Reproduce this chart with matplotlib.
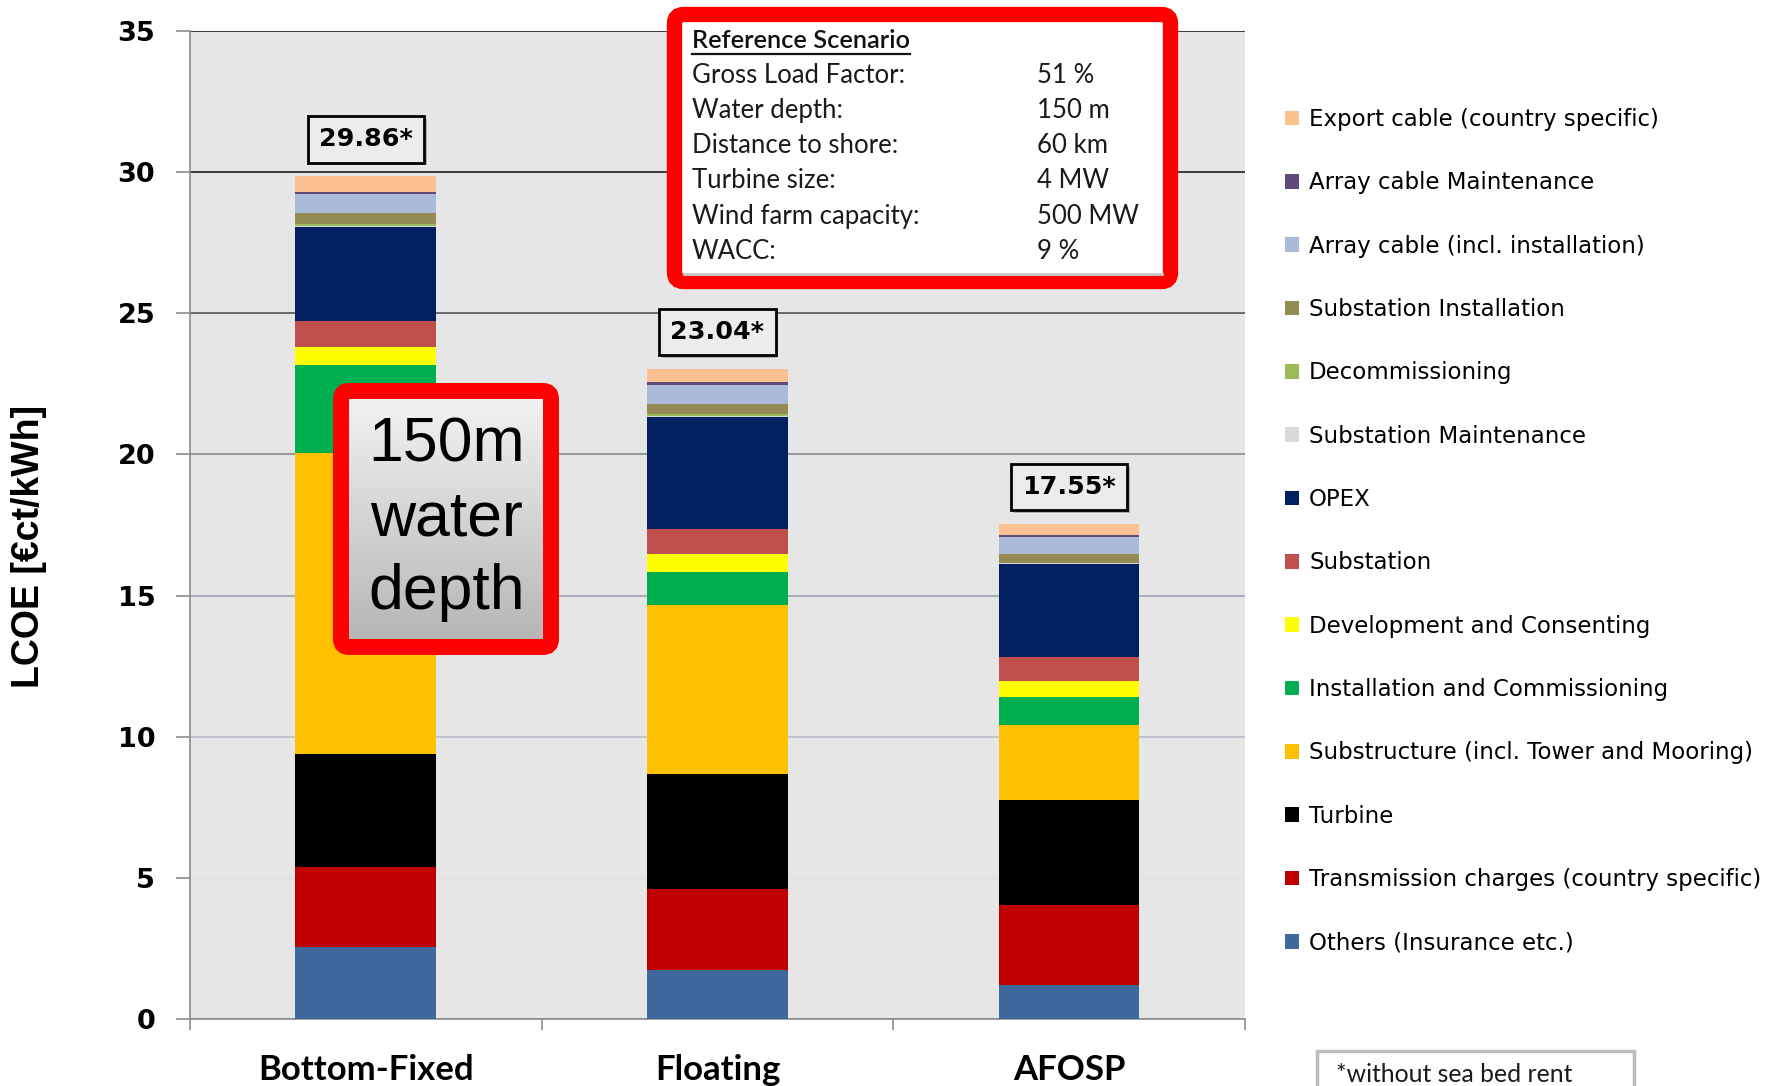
import numpy as np
import matplotlib
matplotlib.use("Agg")
import matplotlib.pyplot as plt
from matplotlib.patches import FancyBboxPatch, Rectangle
import matplotlib.patheffects as pe

# ---- data -------------------------------------------------------------
categories = ["Bottom-Fixed", "Floating", "AFOSP"]

components = [
    "Others (Insurance etc.)",
    "Transmission charges (country specific)",
    "Turbine",
    "Substructure (incl. Tower and Mooring)",
    "Installation and Commissioning",
    "Development and Consenting",
    "Substation",
    "OPEX",
    "Substation Maintenance",
    "Decommissioning",
    "Substation Installation",
    "Array cable (incl. installation)",
    "Array cable Maintenance",
    "Export cable (country specific)",
]

component_colors = [
    "#3f699c", "#c00000", "#000000", "#ffc000", "#00b050", "#ffff00",
    "#c0504d", "#002060", "#d9d9d9", "#9bbb59", "#948a54", "#a9bbd9",
    "#604a7b", "#fac090",
]

# LCOE contributions in €ct/kWh, same order as components
bottom_fixed = [2.54, 2.86, 3.99, 10.66, 3.12, 0.62, 0.92, 3.34, 0.03, 0.10, 0.38, 0.67, 0.06, 0.57]
floating = [1.72, 2.88, 4.07, 6.00, 1.17, 0.64, 0.89, 3.96, 0.02, 0.08, 0.37, 0.67, 0.08, 0.49]
afosp = [1.22, 2.82, 3.73, 2.64, 1.01, 0.55, 0.85, 3.30, 0.02, 0.02, 0.32, 0.58, 0.10, 0.39]

y_ticks = [0, 5, 10, 15, 20, 25, 30, 35]

scenario_title = "Reference Scenario"
scenario_params = ["Gross Load Factor:", "Water depth:", "Distance to shore:",
                   "Turbine size:", "Wind farm capacity:", "WACC:"]
scenario_values = ["51 %", "150 m", "60 km", "4 MW", "500 MW", "9 %"]

depth_note = "150m\nwater\ndepth"
footnote = "*without sea bed rent"

# ---- figure -----------------------------------------------------------
W, H = 1783, 1086
fig = plt.figure(figsize=(W / 100, H / 100), dpi=100)
fig.patch.set_facecolor("white")

ax_left, ax_right, ax_bottom, ax_top = 190, 1245, 1019, 31  # pixel edges
ax = fig.add_axes([ax_left / W, (H - ax_bottom) / H,
                   (ax_right - ax_left) / W, (ax_bottom - ax_top) / H])
ax.set_facecolor("#e6e6e6")

x = np.arange(len(categories))
data = np.array([bottom_fixed, floating, afosp]).T
bottoms = np.zeros(len(categories))
handles = []
for name, color, vals in zip(components, component_colors, data):
    h = ax.bar(x, vals, 0.4, bottom=bottoms, color=color, label=name,
               linewidth=0, zorder=3)
    handles.append(h)
    bottoms = bottoms + vals
totals = bottoms

ax.set_xlim(-0.5, 2.5)
ax.set_ylim(0, 35)

# y axis
ax.set_yticks(y_ticks)
ax.set_yticklabels([str(t) for t in y_ticks], fontsize=19.5, fontweight="bold",
                   family="DejaVu Sans")
ax.tick_params(axis="y", length=10, width=1.2, color="#8c8c8c", pad=15)
ax.yaxis.grid(True, linewidth=1.2)
ax.set_axisbelow(True)
grid_colors = ["#8c8c8c", "#dde1e8", "#b7bcc8", "#9ea3b3", "#878b96",
               "#555555", "#1e1e1e", "#1e1e1e"]
for gl, c in zip(ax.get_ygridlines(), grid_colors):
    gl.set_color(c)

# x axis: labels at the bars, ticks at the category boundaries
ax.set_xticks(x)
ax.set_xticklabels(categories, fontsize=25, fontweight="bold", family="Lato")
ax.tick_params(axis="x", which="major", length=0, pad=25)
ax.set_xticks([-0.5, 0.5, 1.5, 2.5], minor=True)
ax.tick_params(axis="x", which="minor", length=8, width=1.2, color="#8c8c8c")

for s in ["top", "right"]:
    ax.spines[s].set_visible(False)
for s in ["left", "bottom"]:
    ax.spines[s].set_color("#8c8c8c")
    ax.spines[s].set_linewidth(1.2)

ax.set_ylabel("LCOE [€ct/kWh]", fontsize=27, fontweight="bold",
              family=["Liberation Sans Narrow", "Liberation Sans"])
ax.yaxis.set_label_coords((29 - ax_left) / (ax_right - ax_left),
                          1 - (546 - ax_top) / (ax_bottom - ax_top))
ax.yaxis.label.set_va("center")

# total value labels above each bar
for xi, t in zip(x, totals):
    ann = ax.annotate(f"{t:.2f}*", xy=(xi, t), xytext=(0, 26.4),
                      textcoords="offset points", ha="center", va="center",
                      fontsize=18.3, fontweight="bold", family="DejaVu Sans",
                      zorder=6,
                      bbox=dict(boxstyle="square,pad=0.44", fc="#ececec",
                                ec="black", lw=2))
    ann.get_bbox_patch().set_path_effects(
        [pe.SimplePatchShadow(offset=(2, -2), shadow_rgbFace="#888888", alpha=0.6),
         pe.Normal()])

# legend (top entry = top of the stack)
ax.legend(handles[::-1], components[::-1], loc="upper left",
          bbox_to_anchor=(1285 / W, 1 - 108 / H), bbox_transform=fig.transFigure,
          frameon=False, prop={"family": "DejaVu Sans", "size": 16.5},
          handlelength=0.6, handleheight=0.6, handletextpad=0.45,
          labelspacing=1.76, borderpad=0, borderaxespad=0)

# ---- overlay in pixel coordinates for the annotation boxes -----------
ov = fig.add_axes([0, 0, 1, 1], zorder=5)
ov.set_xlim(0, W)
ov.set_ylim(H, 0)
ov.axis("off")
ov.patch.set_alpha(0)

# scenario box
info = FancyBboxPatch((674.5, 14.5), 1170.5 - 674.5, 281.5 - 14.5,
                      boxstyle="round,pad=0,rounding_size=9",
                      fc="white", ec="#ff0000", lw=11)
ov.add_patch(info)
ov.plot([684, 1162], [274, 274], color="#c8c8c8", lw=2)
title_txt = ov.text(692, 41, scenario_title, fontsize=18.3, fontweight="semibold",
                    family="Lato", va="center", ha="left", color="#111111")
line_y = [75.1, 110.3, 145.6, 180.8, 216.1, 251.3]
for yy, p, v in zip(line_y, scenario_params, scenario_values):
    ov.text(692, yy, p, fontsize=18.5, family="Lato", va="center", ha="left",
            color="#1a1a1a")
    ov.text(1037, yy, v, fontsize=18.5, family="Lato", va="center", ha="left",
            color="#1a1a1a")
fig.canvas.draw()
bb = title_txt.get_window_extent()
inv = ov.transData.inverted()
(x0, _), (x1, _) = inv.transform([(bb.x0, bb.y0), (bb.x1, bb.y0)])
ov.plot([x0, x1], [54, 54], color="#111111", lw=1.6)

# water depth box with vertical gradient
depth_box = FancyBboxPatch((341, 391), 551 - 341, 647 - 391,
                           boxstyle="round,pad=0,rounding_size=8",
                           fc="none", ec="#ff0000", lw=11.5, zorder=3)
grad = np.linspace(0, 1, 256).reshape(-1, 1)
img = ov.imshow(grad, cmap=matplotlib.colors.LinearSegmentedColormap.from_list(
    "g", ["#f4f4f4", "#b4b4b4"]), extent=(341, 551, 647, 391), aspect="auto",
    zorder=2)
clip = FancyBboxPatch((341, 391), 551 - 341, 647 - 391,
                      boxstyle="round,pad=0,rounding_size=8", fc="none", ec="none")
ov.add_patch(clip)
img.set_clip_path(clip)
ov.add_patch(depth_box)
ov.text(447, 519, depth_note, fontsize=45, family="Liberation Sans",
        ha="center", va="center", linespacing=1.32, zorder=4)
ov.set_xlim(0, W)
ov.set_ylim(H, 0)

# footnote box
ov.add_patch(Rectangle((1317, 1051), 1634 - 1317, 60, fc="white",
                       ec="#bdbdbd", lw=2.5))
ov.text(1336, 1075, footnote, fontsize=17.8, family="Lato", va="center",
        ha="left", color="#1a1a1a")

fig.savefig("out.png", dpi=100)
